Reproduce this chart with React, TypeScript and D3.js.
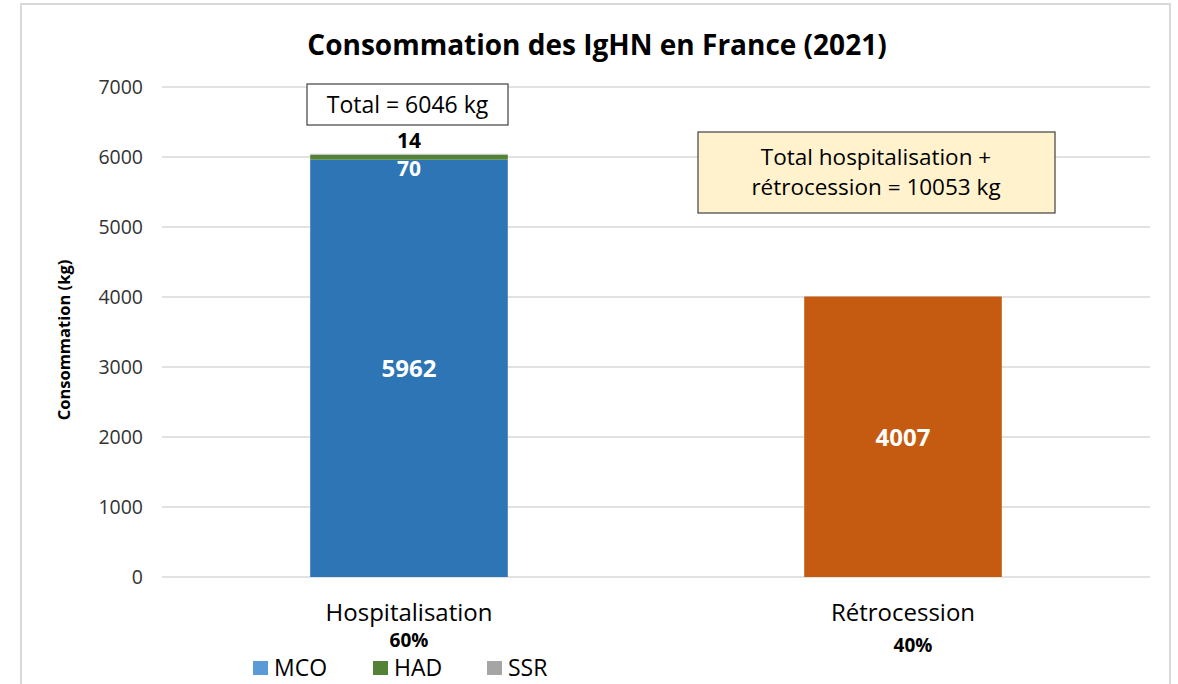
import React from 'react';
import * as d3 from 'd3';

const categories = ['Hospitalisation', 'Rétrocession'];
const shares = ['60%', '40%'];
const series = ['MCO', 'HAD', 'SSR', 'Retro'];
const mco = [5962, 0];
const had = [70, 0];
const ssr = [14, 0];
const retro = [0, 4007];
const yTicks = [0, 1000, 2000, 3000, 4000, 5000, 6000, 7000];
const legendItems = ['MCO', 'HAD', 'SSR'];

const colors: Record<string, string> = {
    MCO: '#2e75b6',
    HAD: '#548235',
    SSR: '#bfbfbf',
    Retro: '#c55a11',
};
const legendColors: Record<string, string> = {
    MCO: '#5b9bd5',
    HAD: '#548235',
    SSR: '#a5a5a5',
};

const W = 1178;
const H = 684;
const font = '"Open Sans", Lato, sans-serif';

export default function App() {
    const x = d3
        .scaleBand()
        .domain(categories)
        .range([162, 1150])
        .paddingInner(0.6)
        .paddingOuter(0.3);
    const y = d3.scaleLinear().domain([0, 7000]).range([577, 87]);

    const rows = categories.map((c, i) => ({
        cat: c,
        MCO: mco[i],
        HAD: had[i],
        SSR: ssr[i],
        Retro: retro[i],
    }));
    const stacked = d3.stack<any>().keys(series)(rows);

    const hx = x('Hospitalisation')! + x.bandwidth() / 2;
    const hTop = y(mco[0] + had[0] + ssr[0]);

    // legend square positions
    const legendX = [253, 373, 487];

    return (
        <svg
            width={W}
            height={H}
            style={{ position: 'absolute', left: 0, top: 0, background: '#fff' }}
            fontFamily={font}
        >
            <rect x={21} y={4} width={1149} height={700} fill="#fff" stroke="#d9d9d9" strokeWidth={2} />
            <text x={597} y={55} textAnchor="middle" fontSize={28} fontWeight="bold" fill="#000">
                Consommation des IgHN en France (2021)
            </text>

            {yTicks.map((t) => (
                <g key={t}>
                    <line x1={162} x2={1150} y1={y(t)} y2={y(t)} stroke="#d9d9d9" strokeWidth={1.5} />
                    <text x={143} y={y(t) + 7} textAnchor="end" fontSize={19.5} fill="#333">
                        {t}
                    </text>
                </g>
            ))}

            <text
                transform={`translate(70,${y(3500) + 8}) rotate(-90)`}
                textAnchor="middle"
                fontSize={16.5}
                fontWeight="bold"
                fill="#000"
            >
                Consommation (kg)
            </text>

            {stacked.map((s) =>
                s.map((d, i) =>
                    d[1] - d[0] > 0 ? (
                        <rect
                            key={s.key + i}
                            x={x(categories[i])}
                            width={x.bandwidth()}
                            y={y(d[1])}
                            height={y(d[0]) - y(d[1])}
                            fill={colors[s.key]}
                        />
                    ) : null
                )
            )}

            <text x={hx} y={y(mco[0] / 2) + 9} textAnchor="middle" fontSize={24} fontWeight="bold" fill="#fff">
                {mco[0]}
            </text>
            <text x={hx} y={y(mco[0]) + 16} textAnchor="middle" fontSize={21} fontWeight="bold" fill="#fff">
                {had[0]}
            </text>
            <text x={hx} y={hTop - 6} textAnchor="middle" fontSize={21} fontWeight="bold" fill="#000">
                {ssr[0]}
            </text>
            <text
                x={x('Rétrocession')! + x.bandwidth() / 2}
                y={y(retro[1] / 2) + 9}
                textAnchor="middle"
                fontSize={24}
                fontWeight="bold"
                fill="#fff"
            >
                {retro[1]}
            </text>

            <rect x={307} y={84} width={201} height={41} fill="#fff" stroke="#404040" strokeWidth={1.2} />
            <text x={407.5} y={113} textAnchor="middle" fontSize={23} fill="#000">
                Total = {mco[0] + had[0] + ssr[0]} kg
            </text>

            <rect x={698} y={132} width={357} height={81} fill="#fff2cc" stroke="#404040" strokeWidth={1.2} />
            <text x={876} y={165} textAnchor="middle" fontSize={22.5} fill="#000">
                Total hospitalisation +
            </text>
            <text x={876} y={195} textAnchor="middle" fontSize={22.5} fill="#000">
                rétrocession = {mco[0] + had[0] + ssr[0] + retro[1]} kg
            </text>

            {categories.map((c, i) => (
                <g key={c}>
                    <text x={x(c)! + x.bandwidth() / 2} y={621} textAnchor="middle" fontSize={24} fill="#000">
                        {c}
                    </text>
                    <text
                        x={x(c)! + x.bandwidth() / 2 + (i === 1 ? 10 : 0)}
                        y={i === 1 ? 652 : 647}
                        textAnchor="middle"
                        fontSize={19}
                        fontWeight="bold"
                        fill="#000"
                    >
                        {shares[i]}
                    </text>
                </g>
            ))}

            {legendItems.map((k, i) => (
                <g key={k}>
                    <rect x={legendX[i]} y={661} width={15} height={14} fill={legendColors[k]} />
                    <text x={legendX[i] + 21} y={676} fontSize={23} fill="#000">
                        {k}
                    </text>
                </g>
            ))}
        </svg>
    );
}
